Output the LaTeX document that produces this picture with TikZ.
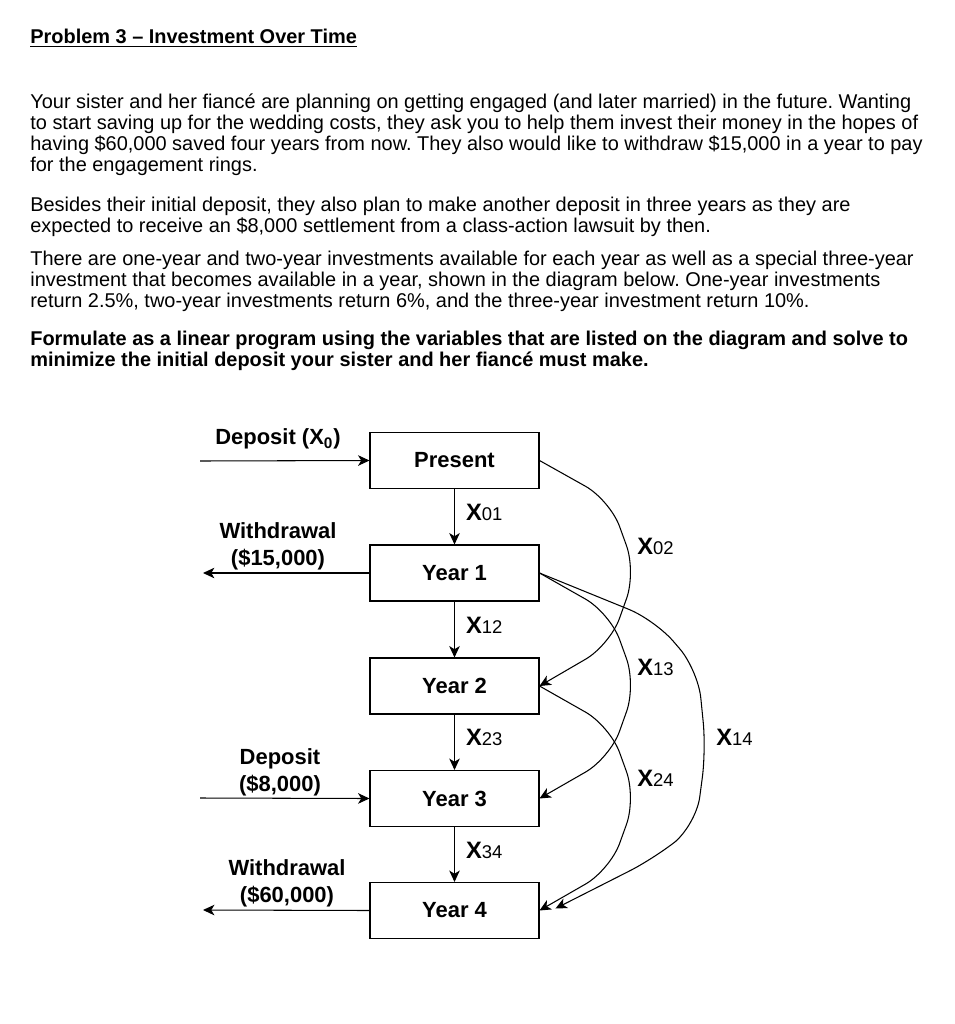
\documentclass[tikz,border=0pt]{standalone}
\usepackage{fontspec}
\setmainfont{Liberation Sans}
\usetikzlibrary{arrows.meta,positioning,calc}
\frenchspacing

% small variable label: bold X, plain digits
\newcommand\flowvar[1]{{\fontsize{13.5}{15}\selectfont\bfseries X}{\fontsize{10.5}{12}\selectfont\mdseries #1}}

\begin{document}
\begin{tikzpicture}[x=0.02cm, y=-0.02cm, >={Stealth[length=6.5pt,width=6pt,inset=1.8pt]},
  body/.style={anchor=base west, inner sep=0pt, font=\fontsize{11.35}{13}\selectfont},
  yearbox/.style={draw, line width=0.6pt, minimum width=3.38cm, minimum height=1.12cm,
    font=\fontsize{12.5}{15}\selectfont\bfseries},
  lbl/.style={font=\fontsize{12.5}{15.4}\selectfont\bfseries, align=center, inner sep=0pt},
  flow/.style={->, line width=0.6pt},
  curve/.style={->, line width=0.6pt, rounded corners=16pt}]

  % page size
  \useasboundingbox (0,0) rectangle (955,1024);

  % heading
  \node[body, font=\fontsize{11.35}{13}\selectfont\bfseries] (title) at (30,44)
    {\underline{Problem 3 – Investment Over Time}};

  % question text
  \node[body] (p1a) at (30,109) {Your sister and her fiancé are planning on getting engaged (and later married) in the future. Wanting};
  \node[body] (p1b) at (30,130) {to start saving up for the wedding costs, they ask you to help them invest their money in the hopes of};
  \node[body] (p1c) at (30,151) {having \$60,000 saved four years from now. They also would like to withdraw \$15,000 in a year to pay};
  \node[body] (p1d) at (30,172) {for the engagement rings.};

  \node[body] (p2a) at (30,211) {Besides their initial deposit, they also plan to make another deposit in three years as they are};
  \node[body] (p2b) at (30,232) {expected to receive an \$8,000 settlement from a class-action lawsuit by then.};

  \node[body] (p3a) at (30,265) {There are one-year and two-year investments available for each year as well as a special three-year};
  \node[body] (p3b) at (30,286) {investment that becomes available in a year, shown in the diagram below. One-year investments};
  \node[body] (p3c) at (30,307) {return 2.5\%, two-year investments return 6\%, and the three-year investment return 10\%.};

  \node[body, font=\fontsize{11.35}{13}\selectfont\bfseries] (p4a) at (30,345) {Formulate as a linear program using the variables that are listed on the diagram and solve to};
  \node[body, font=\fontsize{11.35}{13}\selectfont\bfseries] (p4b) at (30,366) {minimize the initial deposit your sister and her fiancé must make.};

  % the five points in time
  \node[yearbox] (present) at (454.5,460.5) {Present};
  \node[yearbox] (year1) at (454.5,573) {Year 1};
  \node[yearbox] (year2) at (454.5,686) {Year 2};
  \node[yearbox] (year3) at (454.5,798.5) {Year 3};
  \node[yearbox] (year4) at (454.5,910.5) {Year 4};

  % one-year investments
  \draw[flow] (present) -- (year1) node[midway, right=3pt, yshift=2.5pt] (x01) {\flowvar{01}};
  \draw[flow] (year1) -- (year2) node[midway, right=3pt, yshift=2.5pt] (x12) {\flowvar{12}};
  \draw[flow] (year2) -- (year3) node[midway, right=3pt, yshift=2.5pt] (x23) {\flowvar{23}};
  \draw[flow] (year3) -- (year4) node[midway, right=3pt, yshift=2.5pt] (x34) {\flowvar{34}};

  % deposits and withdrawals
  \coordinate (dep0start) at (200,461);
  \coordinate (wd1end) at (203,573);
  \coordinate (dep3start) at (200,798);
  \coordinate (wd4end) at (203,910);
  \draw[flow] (dep0start) -- (present.west);
  \draw[flow] (year1.west) -- (wd1end);
  \draw[flow] (dep3start) -- (year3.west);
  \draw[flow] (year4.west) -- (wd4end);

  \node[lbl] (dep0lbl) at (278,439) {Deposit (X\textsubscript{0})};
  \node[lbl] (wd1lbl) at (278,546) {Withdrawal\\(\$15,000)};
  \node[lbl] (dep3lbl) at (280,772) {Deposit\\(\$8,000)};
  \node[lbl] (wd4lbl) at (287,883) {Withdrawal\\(\$60,000)};

  % two- and three-year investments
  \coordinate (x14end) at ($(year4.east)+(16,-2)$);
  \draw[curve] (present.east) -- (610,500) -- (636,572) -- (610,645) -- (year2.east);
  \draw[curve] (year1.east) -- (610,613) -- (636,685) -- (610,758) -- (year3.east);
  \draw[curve] (year2.east) -- (610,726) -- (636,798) -- (610,870) -- (year4.east);
  \draw[curve] (year1.east) -- (655,620) -- (698,670) -- (706,750) -- (696,825) -- (655,858) -- (x14end);

  \node[anchor=west, inner sep=0pt] (x02) at (637,546) {\flowvar{02}};
  \node[anchor=west, inner sep=0pt] (x13) at (637,667) {\flowvar{13}};
  \node[anchor=west, inner sep=0pt] (x24) at (637,778) {\flowvar{24}};
  \node[anchor=west, inner sep=0pt] (x14) at (716,737) {\flowvar{14}};

\end{tikzpicture}
\end{document}
